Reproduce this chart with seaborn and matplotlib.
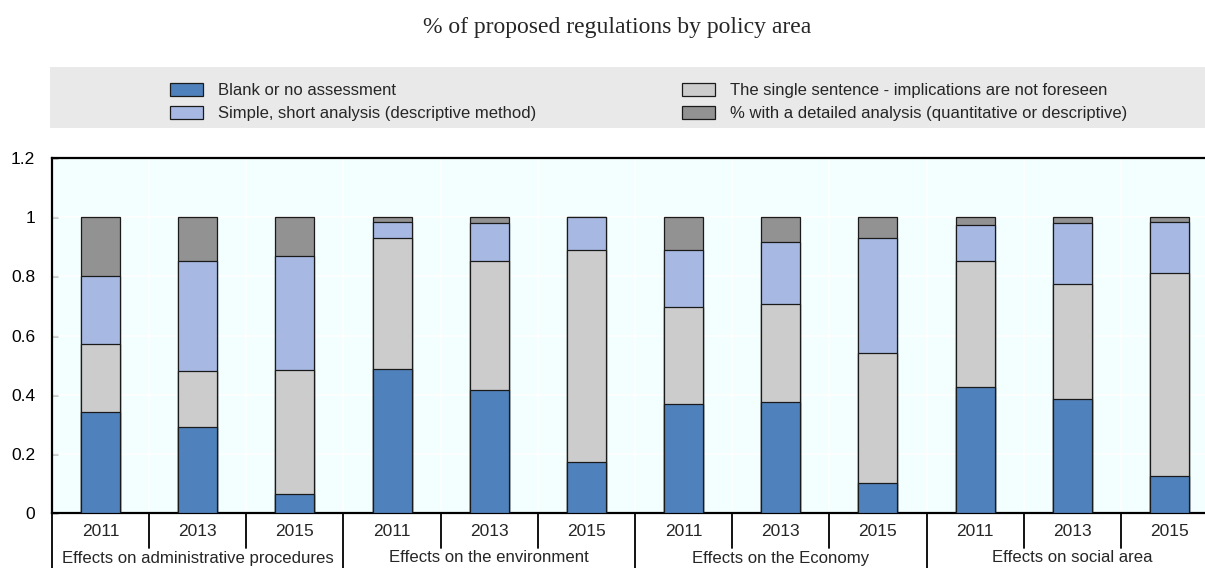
import numpy as np
import pandas as pd
import matplotlib
matplotlib.use("Agg")
import matplotlib.pyplot as plt
import matplotlib.transforms as mtransforms
from matplotlib.patches import Patch, Rectangle
from matplotlib.lines import Line2D
import seaborn as sns

title = "% of proposed regulations by policy area"
areas = ["Effects on administrative procedures", "Effects on the environment",
         "Effects on the Economy", "Effects on social area"]
years = ["2011", "2013", "2015"]

blank = [0.34, 0.29, 0.064, 0.486, 0.415, 0.171, 0.368, 0.375, 0.102, 0.426, 0.387, 0.125]
single = [0.23, 0.19, 0.419, 0.444, 0.437, 0.718, 0.330, 0.332, 0.440, 0.425, 0.388, 0.687]
simple = [0.23, 0.373, 0.386, 0.054, 0.127, 0.111, 0.191, 0.209, 0.388, 0.121, 0.204, 0.171]
detailed = [0.20, 0.148, 0.131, 0.016, 0.021, 0.0, 0.111, 0.084, 0.070, 0.028, 0.021, 0.017]

series_names = ["Blank or no assessment",
                "The single sentence - implications are not foreseen",
                "Simple, short analysis (descriptive method)",
                "% with a detailed analysis (quantitative or descriptive)"]
colors = ["#4f81bd", "#cccccc", "#a7b9e3", "#929292"]

sns.set_theme(style="white")
plt.rcParams["font.family"] = ["Liberation Sans", "DejaVu Sans"]

cats = [f"{a} {y}" for a in areas for y in years]
df = pd.DataFrame({"cat": cats, "blank": blank, "single": single,
                   "simple": simple, "detailed": detailed})
layers = ["blank", "single", "simple", "detailed"]
cum = df[layers].cumsum(axis=1)

fig = plt.figure(figsize=(12.05, 5.68), dpi=100)
W, H = 1205, 568
ax = fig.add_axes([52 / W, 55 / H, (1218 - 52) / W, (513 - 158) / H])
ax.set_facecolor("#f3fefe")

# draw stacked bars: tallest cumulative first
for i in range(len(layers) - 1, -1, -1):
    sns.barplot(x=df["cat"], y=cum[layers[i]], order=cats, color=colors[i],
                width=0.4, edgecolor="#1a1a1a", linewidth=0.9, ax=ax,
                saturation=1, zorder=3)

n = len(cats)
ax.set_xlim(-0.5, n - 0.5)
ax.set_ylim(0, 1.2)
ax.set_yticks(np.arange(0, 1.21, 0.2))
ax.set_yticklabels(["0", "0.2", "0.4", "0.6", "0.8", "1", "1.2"], fontsize=12.5)
ax.set_xticks(range(n))
ax.set_xticklabels(years * len(areas), fontsize=12.5)
ax.tick_params(axis="x", length=0, pad=8)
ax.tick_params(axis="y", direction="in", length=4, width=1, left=True, pad=12, colors="black")
ax.set_xlabel("")
ax.set_ylabel("")

# white grid
for v in np.arange(0.2, 1.2, 0.2):
    ax.axhline(v, color="white", lw=1.2, zorder=1)
for b in np.arange(0.5, n - 0.5, 1):
    ax.axvline(b, color="white", lw=1.2, zorder=1)

for side in ["left", "bottom", "top"]:
    ax.spines[side].set_color("black")
    ax.spines[side].set_linewidth(1.6)
ax.spines["right"].set_visible(False)

# separators below axis
trans = mtransforms.blended_transform_factory(ax.transData, ax.transAxes)
yb = -35 / (513 - 158)
yg = -60 / (513 - 158)
for k, b in enumerate(np.arange(-0.5, n, 1)):
    if k % len(years) == 0:
        ax.add_line(Line2D([b, b], [0, yg], transform=trans, color="black",
                           lw=1.3, clip_on=False))
    else:
        ax.add_line(Line2D([b, b], [0, yb], transform=trans, color="black",
                           lw=1.3, clip_on=False))
for g, a in enumerate(areas):
    c = g * len(years) + (len(years) - 1) / 2
    ax.text(c, -45 / (513 - 158), a, transform=trans, ha="center", va="center",
            fontsize=12.1)

# title
fig.text(617 / W, 1 - 28 / H, title, ha="center", va="center", fontsize=17,
         family=["Liberation Serif", "DejaVu Serif"])

# legend background
fig.patches.append(Rectangle((50 / W, 1 - 128 / H), (W - 50) / W, 61 / H,
                             transform=fig.transFigure, facecolor="#e9e9e9",
                             edgecolor="none", zorder=0))
handles = [Patch(facecolor=colors[i], edgecolor="#1a1a1a", linewidth=0.9) for i in range(4)]
common = dict(frameon=False, fontsize=12, handlelength=2.0, handleheight=0.8,
              handletextpad=0.9, labelspacing=0.45, borderpad=0, borderaxespad=0,
              loc="center left")
leg1 = fig.legend([handles[0], handles[2]], [series_names[0], series_names[2]],
                  bbox_to_anchor=(170 / W, 1 - 102 / H), **common)
leg2 = fig.legend([handles[1], handles[3]], [series_names[1], series_names[3]],
                  bbox_to_anchor=(682 / W, 1 - 102 / H), **common)

fig.savefig("out.png", dpi=100)
